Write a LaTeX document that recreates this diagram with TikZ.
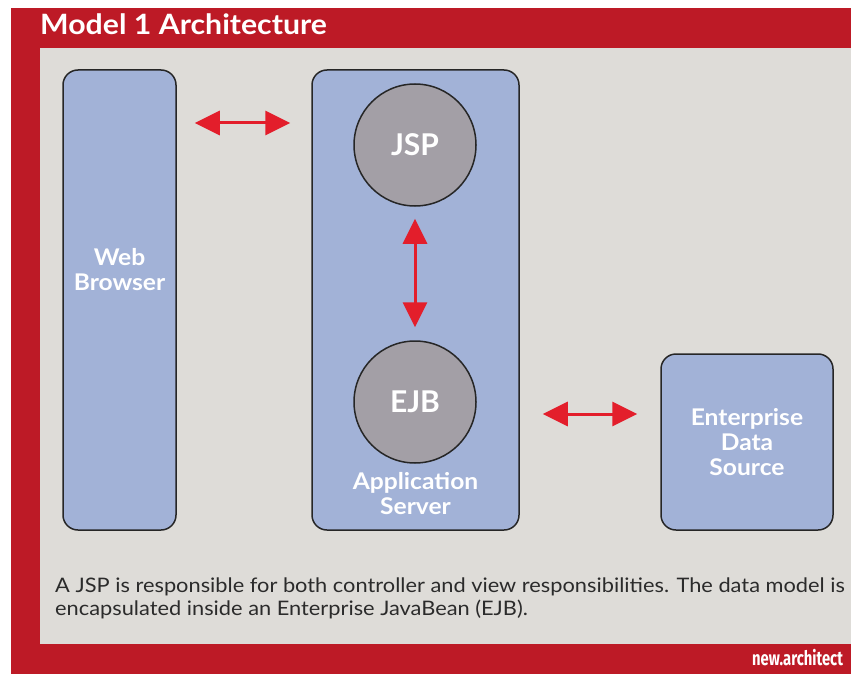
\documentclass[tikz,border=0pt]{standalone}
\usepackage{fontspec}
\setmainfont{Lato}
\newfontfamily\logofont{Fira Sans}
\usetikzlibrary{arrows.meta}

\definecolor{frameRed}{HTML}{BD1A26}
\definecolor{panelGrey}{HTML}{DEDCD8}
\definecolor{boxBlue}{HTML}{A2B2D7}
\definecolor{beanGrey}{HTML}{A39FA6}
\definecolor{arrowRed}{HTML}{E31E2B}
\definecolor{captionInk}{HTML}{2B2B2B}

\tikzset{
  tier/.style={draw=black!85, line width=1.5pt, fill=boxBlue, rounded corners=15pt},
  bean/.style={shape=circle, draw=black!85, line width=1.5pt, fill=beanGrey,
               minimum size=122pt, inner sep=0pt, text=white,
               font=\bfseries\fontsize{30}{30}\selectfont},
  tiertext/.style={text=white, align=center, xscale=1.07,
                   font=\bfseries\fontsize{23}{25}\selectfont},
  link/.style={arrowRed, line width=3pt, {Triangle[length=25pt,width=24pt]}-{Triangle[length=25pt,width=24pt]}}
}

\begin{document}
\begin{tikzpicture}[x=1pt, y=-1pt]
  \useasboundingbox[fill=white] (0,0) rectangle (851,674);
  % frame and panel
  \fill[frameRed] (11,8) rectangle (851,674);
  \fill[panelGrey] (40,48) rectangle (851,644);
  \node[anchor=base west, inner sep=0pt, text=white, xscale=1.08,
        font=\bfseries\fontsize{28}{30}\selectfont] (title) at (40,35) {Model 1 Architecture};

  % tiers
  \node[tier, minimum width=113pt, minimum height=460pt] (web) at (119.5,300) {};
  \node[tier, minimum width=207pt, minimum height=460pt] (app) at (415.5,300) {};
  \node[tier, minimum width=172pt, minimum height=176pt] (eds) at (747,442) {};

  \node[tiertext] (webtext) at (119.5,270) {Web\\Browser};
  \node[tiertext] (apptext) at (415.5,494) {Application\\Server};
  \node[tiertext] (edstext) at (eds.center) {Enterprise\\Data\\Source};

  % components inside the server
  \node[bean] (jsp) at (415,145) {JSP};
  \node[bean] (ejb) at (415,402) {EJB};

  % arrows
  \draw[link, shorten <=18pt, shorten >=21pt] ([yshift=177pt]web.east) -- ([yshift=177pt]app.west);
  \draw[link, shorten <=12pt, shorten >=13pt] (jsp.south) -- (ejb.north);
  \draw[link, shorten <=23pt, shorten >=23pt] ([yshift=-114pt]app.east) -- ([yshift=28pt]eds.west);

  % caption and logo
  \node[anchor=base west, inner sep=0pt, align=left, text=captionInk, xscale=1.09,
        font=\fontsize{20}{23}\selectfont] (caption) at (55,615)
    {A JSP is responsible for both controller and view responsibilities. The data model is\\
     encapsulated inside an Enterprise JavaBean (EJB).};
  \node[anchor=base west, inner sep=0pt, text=white, xscale=0.74,
        font=\logofont\bfseries\fontsize{20}{20}\selectfont] (logo) at (752,665) {new.architect};
\end{tikzpicture}
\end{document}
